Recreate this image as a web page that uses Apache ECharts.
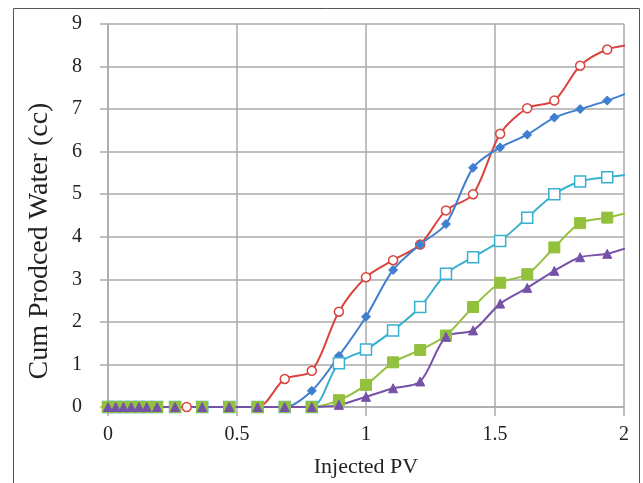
<!DOCTYPE html>
<html>
<head>
<meta charset="utf-8">
<script src="https://cdn.jsdelivr.net/npm/echarts@6/dist/echarts.min.js"></script>
<style>
  html, body { margin: 0; padding: 0; background: #fff; }
  #chart { width: 643px; height: 483px; }
</style>
</head>
<body>
<div id="chart"></div>
<script>
"use strict";
// injected PV (x) for every series; red has its early point a bit later
var pv = [0, 0.03, 0.06, 0.09, 0.12, 0.15, 0.19, 0.26, 0.365, 0.47, 0.58, 0.685, 0.79, 0.895, 1.0, 1.105, 1.21, 1.31, 1.415, 1.52, 1.625, 1.73, 1.83, 1.935, 2.04];
var pvRed = [0, 0.03, 0.06, 0.09, 0.12, 0.15, 0.19, 0.305, 0.365, 0.47, 0.58, 0.685, 0.79, 0.895, 1.0, 1.105, 1.21, 1.31, 1.415, 1.52, 1.625, 1.73, 1.83, 1.935, 2.04];

var redVals    = [0, 0, 0, 0, 0, 0, 0, 0, 0, 0, 0, 0.66, 0.85, 2.24, 3.05, 3.45, 3.82, 4.62, 5.0, 6.42, 7.02, 7.2, 8.02, 8.4, 8.52];
var blueVals   = [0, 0, 0, 0, 0, 0, 0, 0, 0, 0, 0, 0, 0.38, 1.2, 2.12, 3.22, 3.82, 4.3, 5.62, 6.1, 6.4, 6.8, 7.0, 7.2, 7.44];
var cyanVals   = [0, 0, 0, 0, 0, 0, 0, 0, 0, 0, 0, 0, 0, 1.03, 1.35, 1.8, 2.35, 3.13, 3.52, 3.9, 4.45, 5.0, 5.3, 5.4, 5.48];
var greenVals  = [0, 0, 0, 0, 0, 0, 0, 0, 0, 0, 0, 0, 0, 0.16, 0.52, 1.05, 1.34, 1.68, 2.35, 2.92, 3.12, 3.75, 4.32, 4.45, 4.6];
var purpleVals = [0, 0, 0, 0, 0, 0, 0, 0, 0, 0, 0, 0, 0, 0.05, 0.24, 0.44, 0.6, 1.65, 1.8, 2.43, 2.8, 3.2, 3.52, 3.6, 3.8];

var xTicks = [0, 0.5, 1, 1.5, 2];

function pairs(xs, ys) {
    return ys.map(function (v, i) { return [xs[i], v]; });
}

function mkSeries(name, xs, ys, color, symbol, size, hollow) {
    return {
        name: name,
        type: "line",
        smooth: 0.3,
        clip: true,
        data: pairs(xs, ys),
        symbol: symbol,
        symbolSize: size,
        showAllSymbol: true,
        lineStyle: {color: color, width: 2},
        itemStyle: hollow ? {color: "#fff", borderColor: color, borderWidth: 1.5} : {color: color, borderColor: color},
        emphasis: {disabled: true}
    };
}

var serif = "Liberation Serif";
var chart = echarts.init(document.getElementById("chart"));
chart.setOption({
    animation: false,
    graphic: [{
        type: "rect",
        shape: {x: 13.5, y: 8.5, width: 626, height: 490},
        style: {fill: "none", stroke: "#555", lineWidth: 1}
    }, {
        // y axis title sits a little below the plot middle
        type: "text",
        x: 40, y: 241,
        rotation: Math.PI / 2,
        style: {text: "Cum Prodced Water (cc)", font: "28px 'Liberation Serif'", fill: "#222",
            align: "center", verticalAlign: "middle"}
    }],
    grid: {left: 108, right: 19, top: 24, bottom: 75},
    xAxis: {
        type: "value",
        min: 0, max: 2, interval: 0.5,
        name: "Injected PV",
        nameLocation: "middle",
        nameGap: 49,
        nameTextStyle: {fontFamily: serif, fontSize: 22, color: "#222"},
        axisLine: {show: true, onZero: false, lineStyle: {color: "#aaa", width: 1.5}},
        axisTick: {show: true, inside: false, length: 9, lineStyle: {color: "#aaa", width: 1.5}},
        axisLabel: {fontFamily: serif, fontSize: 20, color: "#222", margin: 18,
            formatter: function (v) { return xTicks.indexOf(v) >= 0 ? String(v) : ""; }},
        splitLine: {show: true, lineStyle: {color: "#aaa", width: 1.5}}
    },
    yAxis: {
        type: "value",
        min: 0, max: 9, interval: 1,
        axisLine: {show: true, lineStyle: {color: "#aaa", width: 1.5}},
        axisTick: {show: true, inside: false, length: 8, lineStyle: {color: "#aaa", width: 1.5}},
        axisLabel: {fontFamily: serif, fontSize: 20, color: "#222", margin: 26},
        splitLine: {show: true, lineStyle: {color: "#aaa", width: 1.5}}
    },
    series: [
        mkSeries("A", pvRed, redVals, "#d9443f", "circle", 9, true),
        mkSeries("B", pv, blueVals, "#3f7fcf", "diamond", 9, false),
        mkSeries("C", pv, cyanVals, "#39b0cf", "rect", 11, true),
        mkSeries("D", pv, greenVals, "#93c13e", "rect", 11, false),
        mkSeries("E", pv, purpleVals, "#7552a8", "triangle", 9, false)
    ]
});
</script>
</body>
</html>
